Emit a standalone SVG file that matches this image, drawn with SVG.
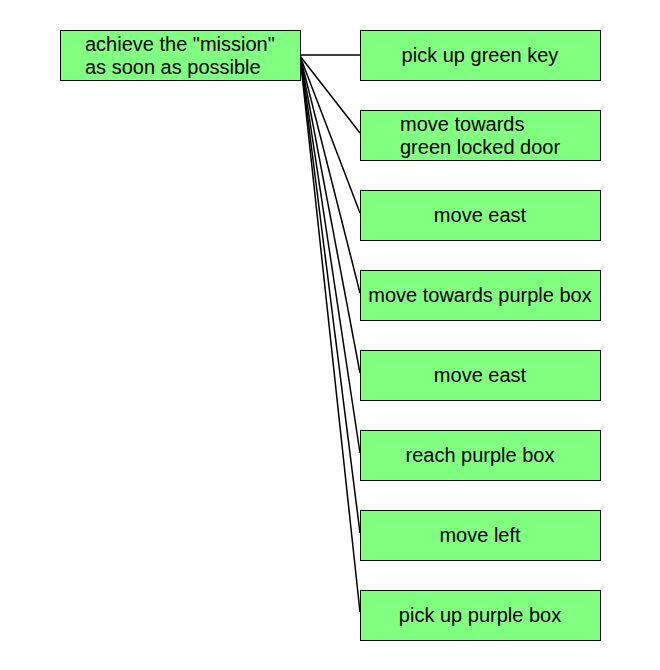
<svg xmlns="http://www.w3.org/2000/svg" width="660" height="670" viewBox="0 0 660 670">
<style>
rect{fill:#80ff80;stroke:#000;stroke-width:1}
text{font-family:"Liberation Sans",Arial,sans-serif;font-size:20px;fill:#000}
.c{text-anchor:middle}
#edges line{stroke:#000;stroke-width:1.5}
</style>
<rect x="0" y="0" width="660" height="670" style="fill:#fff;stroke:none"/>
<g id="edges">
<line x1="300" y1="55" x2="360" y2="55"/>
<line x1="300" y1="56" x2="360" y2="133"/>
<line x1="300" y1="56" x2="360" y2="213"/>
<line x1="300" y1="56" x2="360" y2="293"/>
<line x1="300" y1="56" x2="360" y2="373"/>
<line x1="300" y1="56" x2="360" y2="453"/>
<line x1="300" y1="56" x2="360" y2="533"/>
<line x1="300" y1="56" x2="360" y2="612"/>
</g>
<g id="root"><rect x="60.5" y="30.5" width="240" height="50"/><text x="85" y="51">achieve the "mission"</text><text x="85" y="74">as soon as possible</text></g>
<g id="n1"><rect x="360.5" y="30.5" width="240" height="50"/><text class="c" x="480" y="62">pick up green key</text></g>
<g id="n2"><rect x="360.5" y="110.5" width="240" height="50"/><text x="400" y="131">move towards</text><text x="400" y="154">green locked door</text></g>
<g id="n3"><rect x="360.5" y="190.5" width="240" height="50"/><text class="c" x="480" y="222">move east</text></g>
<g id="n4"><rect x="360.5" y="270.5" width="240" height="50"/><text class="c" x="480" y="302">move towards purple box</text></g>
<g id="n5"><rect x="360.5" y="350.5" width="240" height="50"/><text class="c" x="480" y="382">move east</text></g>
<g id="n6"><rect x="360.5" y="430.5" width="240" height="50"/><text class="c" x="480" y="462">reach purple box</text></g>
<g id="n7"><rect x="360.5" y="510.5" width="240" height="50"/><text class="c" x="480" y="542">move left</text></g>
<g id="n8"><rect x="360.5" y="590.5" width="240" height="50"/><text class="c" x="480" y="622">pick up purple box</text></g>
</svg>
